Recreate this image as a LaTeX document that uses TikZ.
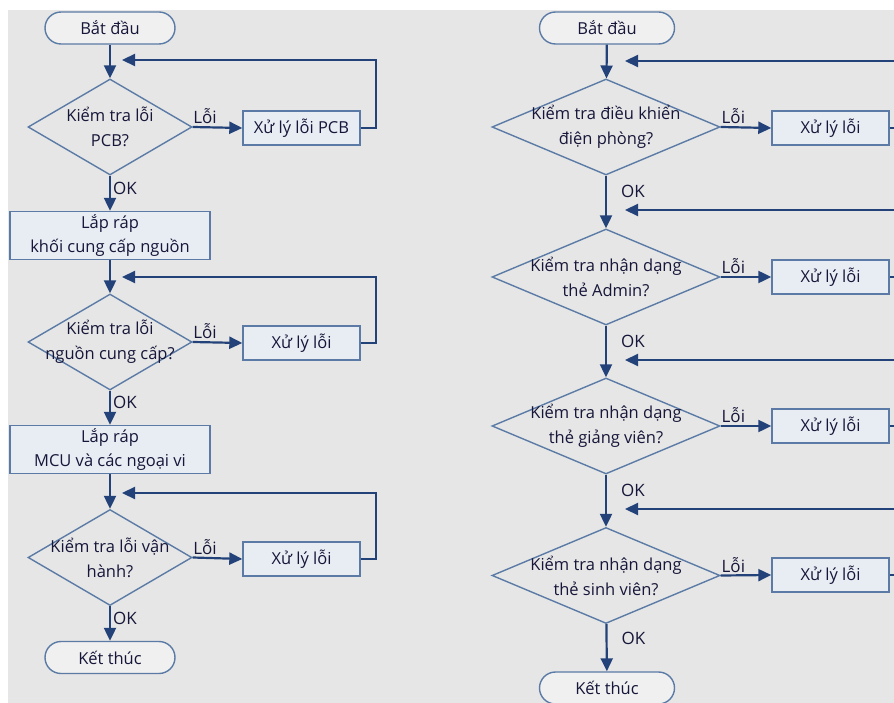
\documentclass[tikz,border=0pt]{standalone}
\usepackage{fontspec}
\setmainfont{Open Sans}
\usetikzlibrary{arrows.meta,positioning,shapes.geometric}
\definecolor{linecol}{HTML}{24427A}
\definecolor{edgecol}{HTML}{5B7BA6}
\definecolor{boxfill}{HTML}{E8EDF3}
\definecolor{bgcol}{HTML}{E6E6E6}
\definecolor{txtcol}{HTML}{16163A}

\tikzset{
  base/.style={draw=edgecol, line width=1.4pt, text=txtcol,
    font=\fontsize{16.5}{24}\selectfont, align=center, inner sep=0pt},
  term/.style={base, fill=bgcol!60!white, rectangle, rounded corners=16pt,
    minimum width=130pt, minimum height=32pt},
  proc/.style={base, fill=boxfill, rectangle, minimum width=117pt, minimum height=34pt},
  stage/.style={proc, minimum width=200pt, minimum height=48pt},
  decide/.style={base, fill=bgcol, diamond, minimum width=164pt, minimum height=96pt},
  dtext/.style={text=txtcol, font=\fontsize{16.5}{25}\selectfont, align=center},
  flow/.style={draw=linecol, line width=2.2pt, -{Triangle[length=13pt,width=12pt]}},
  tag/.style={text=txtcol, font=\fontsize{17}{19}\selectfont, inner sep=2pt}
}

\begin{document}
\begin{tikzpicture}[x=1pt, y=-1pt]
    \useasboundingbox (0,0) rectangle (894,703);
    \clip (0,0) rectangle (894,703);
    \fill[white] (0,0) rectangle (894,703);
    \fill[bgcol] (8,10) rectangle (894,703);

    % Left flow: assembly
    \node[term] (s1) at (110,28) {Bắt đầu};
    \node[decide, label={[dtext]center:Kiểm tra lỗi\\PCB?}] (d1) at (110,127) {};
    \node[proc] (e1) at (301.5,128) {Xử lý lỗi PCB};
    \node[stage] (b1) at (110,235.5) {Lắp ráp\\khối cung cấp nguồn};
    \node[decide, label={[dtext]center:Kiểm tra lỗi\\nguồn cung cấp?}] (d2) at (110,342) {};
    \node[proc] (e2) at (301.5,343) {Xử lý lỗi};
    \node[stage] (b2) at (110,449.5) {Lắp ráp\\MCU và các ngoại vi};
    \node[decide, label={[dtext]center:Kiểm tra lỗi vận\\hành?}] (d3) at (110,557.5) {};
    \node[proc] (e3) at (301.5,559) {Xử lý lỗi};
    \node[term] (s2) at (110,657.5) {Kết thúc};

    \coordinate (j1) at (122,60);
    \coordinate (j2) at (122,277);
    \coordinate (j3) at (122,493);

    \draw[flow] (s1) -- (d1);
    \draw[flow] (d1) -- (b1) node[tag, pos=0.35, right] {OK};
    \draw[flow] (b1) -- (d2);
    \draw[flow] (d2) -- (b2) node[tag, pos=0.35, right] {OK};
    \draw[flow] (b2) -- (d3);
    \draw[flow] (d3) -- (s2) node[tag, pos=0.35, right] {OK};

    \draw[flow] (d1.east) -- (e1.west) node[tag, pos=0.25, above] {Lỗi};
    \draw[flow] (d2.east) -- (e2.west) node[tag, pos=0.25, above] {Lỗi};
    \draw[flow] (d3.east) -- (e3.west) node[tag, pos=0.25, above] {Lỗi};

    \draw[flow] (e1.east) -- ++(15,0) |- (j1);
    \draw[flow] (e2.east) -- ++(15,0) |- (j2);
    \draw[flow] (e3.east) -- ++(15,0) |- (j3);

    % Right flow: room control and cards
    \node[term, minimum width=135pt] (t1) at (607,28) {Bắt đầu};
    \node[decide, minimum width=228pt, label={[dtext]center:Kiểm tra điều khiển\\điện phòng?}] (c1) at (606,127) {};
    \node[proc] (f1) at (830.5,128) {Xử lý lỗi};
    \node[decide, minimum width=228pt, label={[dtext]center:Kiểm tra nhận dạng\\thẻ Admin?}] (c2) at (606,277) {};
    \node[proc] (f2) at (830.5,277) {Xử lý lỗi};
    \node[decide, minimum width=228pt, label={[dtext]center:Kiểm tra nhận dạng\\thẻ giảng viên?}] (c3) at (606,426) {};
    \node[proc] (f3) at (830.5,426) {Xử lý lỗi};
    \node[decide, minimum width=228pt, label={[dtext]center:Kiểm tra nhận dạng\\thẻ sinh viên?}] (c4) at (606,575.5) {};
    \node[proc] (f4) at (830.5,575) {Xử lý lỗi};
    \node[term, minimum width=135pt] (t2) at (607,688) {Kết thúc};

    \coordinate (k1) at (625,61);
    \coordinate (k2) at (625,210);
    \coordinate (k3) at (625,360);
    \coordinate (k4) at (625,509);

    \draw[flow] (t1) -- (c1);
    \draw[flow] (c1) -- (c2) node[tag, pos=0.3, right=12pt] {OK};
    \draw[flow] (c2) -- (c3) node[tag, pos=0.3, right=12pt] {OK};
    \draw[flow] (c3) -- (c4) node[tag, pos=0.3, right=12pt] {OK};
    \draw[flow] (c4) -- (t2) node[tag, pos=0.3, right=12pt] {OK};

    \foreach \i in {1,...,4} {
      \draw[flow] (c\i.east) -- (f\i.west) node[tag, pos=0.25, above] {Lỗi};
      \draw[flow] (f\i.east) -- ++(20,0) |- (k\i);
    }
\end{tikzpicture}
\end{document}
